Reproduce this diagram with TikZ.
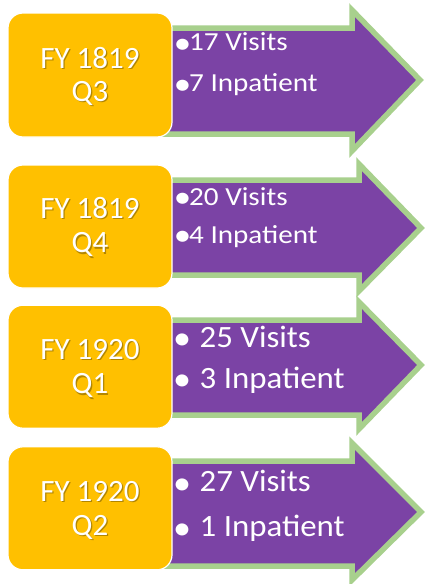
\documentclass[tikz,border=0pt]{standalone}
\usepackage{fontspec}
\setmainfont{Carlito}
\newfontfamily\boxfont{Carlito}
\newfontfamily\smallfont[FakeStretch=1.12]{Carlito}
\newfontfamily\bigfont[FakeStretch=1.06]{Carlito}
\definecolor{gold}{HTML}{FFC000}
\definecolor{arrowpurple}{HTML}{7B43A5}
\definecolor{arrowgreen}{HTML}{A8D08D}
\newcommand{\smallbul}{\makebox[11pt][c]{\raisebox{-2.5pt}{\scalebox{1.2}{•}}}\hspace{1pt}}
\newcommand{\bigbul}{\makebox[10pt][c]{\raisebox{-2.3pt}{\scalebox{1.1}{•}}}\hspace{12.5pt}}
\begin{document}
\begin{tikzpicture}[x=1pt,y=-1pt,
  arrowshape/.style={fill=arrowpurple, draw=arrowgreen, line width=5.5pt, line join=miter, miter limit=10},
  qbox/.style={fill=gold, draw=white, line width=1.2pt, rounded corners=15pt},
  qtext/.style={text=white, anchor=base, inner sep=0pt, font=\boxfont\fontsize{31}{34}\selectfont},
  qshadow/.style={text=black, opacity=0.3, anchor=base, inner sep=0pt, font=\boxfont\fontsize{31}{34}\selectfont},
  smalltext/.style={text=white, anchor=base west, inner sep=0pt, font=\smallfont\fontsize{26}{30}\selectfont},
  bigtext/.style={text=white, anchor=base west, inner sep=0pt, font=\bigfont\fontsize{31}{36}\selectfont}]
\useasboundingbox (0,0) rectangle (425,584);

% arrows
\draw[arrowshape] (165,28) -- (352,28) -- (352,10) -- (420,80) -- (352,151) -- (352,134) -- (165,134) -- cycle;
\draw[arrowshape] (165,180) -- (359,180) -- (359,164) -- (421,228) -- (359,291) -- (359,275) -- (165,275) -- cycle;
\draw[arrowshape] (165,320) -- (359,320) -- (359,302) -- (421,365) -- (359,429) -- (359,415) -- (165,415) -- cycle;
\draw[arrowshape] (165,461) -- (352,461) -- (352,443) -- (421,512) -- (352,580) -- (352,566) -- (165,566) -- cycle;

% boxes
\node[qbox, minimum width=164pt, minimum height=124pt] (b1) at (90,75) {};
\node[qbox, minimum width=164pt, minimum height=123pt] (b2) at (90,226.5) {};
\node[qbox, minimum width=164pt, minimum height=123pt] (b3) at (90,366.7) {};
\node[qbox, minimum width=164pt, minimum height=123pt] (b4) at (90,508.3) {};

% box texts
\node[qshadow] at (91.2,69.5) {FY 1819};
\node[qshadow] at (91.2,102.9) {Q3};
\node[qtext] (t1a) at (90,68.3) {FY 1819};
\node[qtext] (t1b) at (90,101.7) {Q3};

\node[qshadow] at (91.2,219.5) {FY 1819};
\node[qshadow] at (91.2,254.1) {Q4};
\node[qtext] (t2a) at (90,218.3) {FY 1819};
\node[qtext] (t2b) at (90,252.9) {Q4};

\node[qshadow] at (91.2,360.9) {FY 1920};
\node[qshadow] at (91.2,395.1) {Q1};
\node[qtext] (t3a) at (90,359.7) {FY 1920};
\node[qtext] (t3b) at (90,393.9) {Q1};

\node[qshadow] at (91.2,502.5) {FY 1920};
\node[qshadow] at (91.2,536.7) {Q2};
\node[qtext] (t4a) at (90,501.3) {FY 1920};
\node[qtext] (t4b) at (90,535.5) {Q2};

% arrow texts
\node[smalltext] (a1a) at (177,50.7) {\smallbul 17 Visits};
\node[smalltext] (a1b) at (177,91.7) {\smallbul 7 Inpatient};
\node[smalltext] (a2a) at (177,205) {\smallbul 20 Visits};
\node[smalltext] (a2b) at (177,243.3) {\smallbul 4 Inpatient};
\node[bigtext] (a3a) at (177,347) {\bigbul 25 Visits};
\node[bigtext] (a3b) at (177,388) {\bigbul 3 Inpatient};
\node[bigtext] (a4a) at (177,491.7) {\bigbul 27 Visits};
\node[bigtext] (a4b) at (177,536.7) {\bigbul 1 Inpatient};
\end{tikzpicture}
\end{document}
